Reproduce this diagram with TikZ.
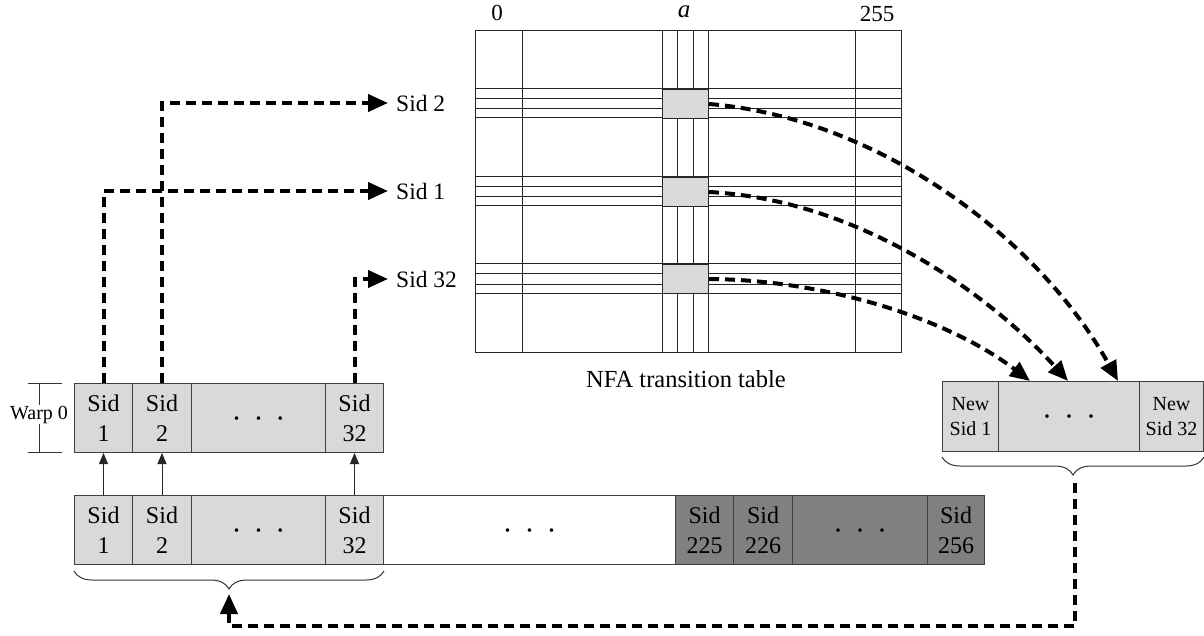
\documentclass[tikz,border=0pt]{standalone}
\usepackage{fontspec}
\setmainfont{Liberation Serif}
\usetikzlibrary{arrows.meta,decorations.pathreplacing,calc}
\definecolor{cellgray}{RGB}{217,217,217}
\definecolor{darkcell}{RGB}{128,128,128}
\newcommand{\threedots}{\textperiodcentered\hspace{12pt}\textperiodcentered\hspace{12pt}\textperiodcentered}
\begin{document}
\begin{tikzpicture}[x=1pt,y=-1pt,
  cell/.style={draw=black!75, line width=1pt, fill=cellgray, anchor=north west, inner sep=0pt, align=center,
    font=\fontsize{24}{30}\selectfont},
  dcell/.style={cell, fill=darkcell},
  wcell/.style={cell, fill=white},
  ncell/.style={cell, font=\fontsize{20}{25}\selectfont},
  dotcell/.style={font=\fontsize{30}{30}\selectfont, text height=20pt, text depth=0pt},
  tabline/.style={line width=1pt, black!85},
  gcell/.style={draw=black!85, line width=1pt, fill=cellgray, anchor=north west, inner sep=0pt, minimum width=46pt, minimum height=29pt},
  sidlabel/.style={anchor=west, inner xsep=8pt, font=\fontsize{23.5}{28}\selectfont},
  dasharrow/.style={line width=4pt, dash pattern=on 10pt off 6pt, -{Triangle[length=20pt,width=17pt]}},
  thinarrow/.style={line width=1pt, black!85, -{Triangle[length=11pt,width=9pt]}},
  bracestyle/.style={line width=1pt, black!80, decorate, decoration={brace, amplitude=18pt}},
]
\useasboundingbox (0,0) rectangle (1204,636);

% ---------- NFA transition table ----------
\draw[tabline] (475,31) rectangle (901,352);
\foreach \x in {522,662,677,693,708,855} \draw[tabline] (\x,31) -- (\x,352);
\foreach \y in {89,99,109,118,177,187,197,206,264,274,284,293} \draw[tabline] (475,\y) -- (901,\y);
\node[gcell] (g2) at (662,89) {};
\node[gcell] (g1) at (662,177) {};
\node[gcell] (g32) at (662,264) {};

\node[anchor=base, inner sep=0pt, font=\fontsize{23}{26}\selectfont] (c0) at (497,21) {0};
\node[anchor=base, inner sep=0pt, font=\fontsize{25}{28}\selectfont\itshape] (ca) at (684,18) {a};
\node[anchor=base, inner sep=0pt, font=\fontsize{23}{26}\selectfont] (c255) at (877,22) {255};
\node[anchor=base, font=\fontsize{24.5}{28}\selectfont] (title) at (686,387) {NFA transition table};

% ---------- Sid labels ----------
\node[sidlabel] (s2) at (388,103) {Sid 2};
\node[sidlabel] (s1) at (388,191) {Sid 1};
\node[sidlabel] (s32) at (388,279) {Sid 32};

% ---------- Warp row ----------
\node[cell, minimum width=58pt, minimum height=69pt] (w1) at (74,383) {Sid\\1};
\node[cell, minimum width=59pt, minimum height=69pt] (w2) at (132,383) {Sid\\2};
\node[cell, dotcell, minimum width=134pt, minimum height=69pt] (wd) at (191,383) {\threedots};
\node[cell, minimum width=58pt, minimum height=69pt] (w32) at (325,383) {Sid\\32};

\draw[line width=1pt, black!80] (28,383) -- (62,383) (28,452) -- (62,452) (39,383) -- (39,452);
\node[anchor=base, fill=white, inner sep=1pt, font=\fontsize{20}{24}\selectfont] (warp) at (39,419) {Warp 0};

% ---------- Bottom row ----------
\node[cell, minimum width=58pt, minimum height=69pt] (b1) at (74,495) {Sid\\1};
\node[cell, minimum width=59pt, minimum height=69pt] (b2) at (132,495) {Sid\\2};
\node[cell, dotcell, minimum width=134pt, minimum height=69pt] (bd) at (191,495) {\threedots};
\node[cell, minimum width=58pt, minimum height=69pt] (b32) at (325,495) {Sid\\32};
\node[wcell, dotcell, minimum width=292pt, minimum height=69pt] (bw) at (383,495) {\threedots};
\node[dcell, minimum width=58pt, minimum height=69pt] (b225) at (675,495) {Sid\\225};
\node[dcell, minimum width=59pt, minimum height=69pt] (b226) at (733,495) {Sid\\226};
\node[dcell, dotcell, minimum width=135pt, minimum height=69pt] (bd2) at (792,495) {\threedots};
\node[dcell, minimum width=57pt, minimum height=69pt] (b256) at (927,495) {Sid\\256};

% ---------- New Sid row ----------
\node[ncell, minimum width=56pt, minimum height=70pt] (n1) at (942,381) {New\\Sid 1};
\node[cell, dotcell, minimum width=141pt, minimum height=70pt] (nd) at (998,381) {\threedots};
\node[ncell, minimum width=64pt, minimum height=70pt] (n32) at (1139,381) {New\\Sid 32};

% ---------- braces ----------
\draw[bracestyle] ($(b32.south east)+(0,6)$) -- ($(b1.south west)+(0,6)$);
\draw[bracestyle] ($(n32.south east)+(0,5)$) -- ($(n1.south west)+(0,5)$);
\coordinate (lbt) at (229,594);
\coordinate (rbt) at (1075,483);
\coordinate (fb) at (0,626);

% ---------- connectors ----------
\draw[thinarrow] (b1.north) -- (w1.south);
\draw[thinarrow] (b2.north) -- (w2.south);
\draw[thinarrow] (b32.north) -- (w32.south);

\draw[dasharrow] (w2.north) |- (s2.west);
\draw[dasharrow] (w1.north) |- (s1.west);
\draw[dasharrow] (w32.north) |- (s32.west);

\draw[dasharrow] (g2.east) .. controls (880,118) and (1040,240) .. ($(nd.north west)+(120,0)$);
\draw[dasharrow] (g1.east) .. controls (860,200) and (990,295) .. ($(nd.north west)+(70,0)$);
\draw[dasharrow] (g32.east) .. controls (830,280) and (950,320) .. ($(nd.north west)+(32,0)$);

\draw[dasharrow] (rbt) -- (rbt |- fb) -- (lbt |- fb) -- (lbt);
\end{tikzpicture}
\end{document}
